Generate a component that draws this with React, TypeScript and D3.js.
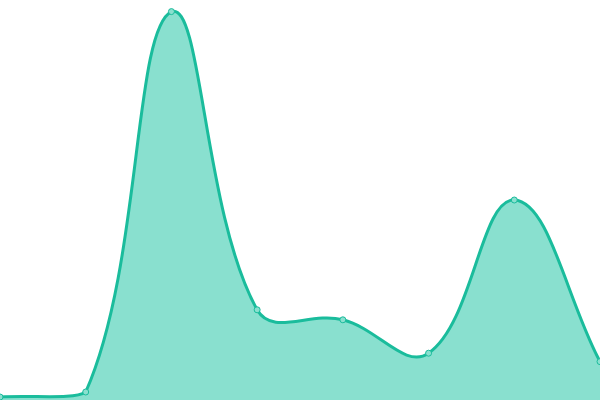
import { useEffect, useRef } from 'react';
import * as d3 from 'd3';

// values (hidden axes, 0..100 scale)
const labels = ['A', 'B', 'C', 'D', 'E', 'F', 'G', 'H'];
const values = [0.75, 2.0, 97.1, 22.55, 20.05, 11.7, 50.0, 9.6];

const W = 600;
const H = 400;
const LINE = '#1abc9c';
const FILL = '#89e0cf';
const DOT_FILL = '#8ae0cf';
const TENSION = 0.4;

type Pt = { x: number; y: number };

/** spline with distance-weighted control points (tension 0.4), capped to the plot area */
function splinePath(pts: Pt[], ctx: d3.Path, moveFirst = true) {
  const clampX = (v: number) => Math.max(0, Math.min(W, v));
  const clampY = (v: number) => Math.max(0, Math.min(H, v));
  const cps = pts.map((cur, i) => {
    const prev = pts[i - 1] ?? cur;
    const next = pts[i + 1] ?? cur;
    const d01 = Math.hypot(cur.x - prev.x, cur.y - prev.y);
    const d12 = Math.hypot(next.x - cur.x, next.y - cur.y);
    const sum = d01 + d12 || 1;
    const fa = (TENSION * d01) / sum;
    const fb = (TENSION * d12) / sum;
    return {
      px: clampX(cur.x - fa * (next.x - prev.x)),
      py: clampY(cur.y - fa * (next.y - prev.y)),
      nx: clampX(cur.x + fb * (next.x - prev.x)),
      ny: clampY(cur.y + fb * (next.y - prev.y)),
    };
  });
  pts.forEach((p, i) => {
    if (i === 0) {
      if (moveFirst) ctx.moveTo(p.x, p.y);
      else ctx.lineTo(p.x, p.y);
      return;
    }
    const a = cps[i - 1];
    const b = cps[i];
    ctx.bezierCurveTo(a.nx, a.ny, b.px, b.py, p.x, p.y);
  });
}

export default function App() {
  const svgRef = useRef<SVGSVGElement>(null);

  useEffect(() => {
    if (!svgRef.current) return;
    const svg = d3.select(svgRef.current);
    svg.selectAll('*').remove();

    const x = d3.scalePoint<string>().domain(labels).range([0, W]);
    const y = d3.scaleLinear().domain([0, 100]).range([H, 0]);

    const pts: Pt[] = labels.map((l, i) => ({ x: x(l)!, y: y(values[i]) }));

    // ── 채움 영역 ──
    const area = d3.path();
    area.moveTo(pts[0].x, y(0));
    splinePath(pts, area, false);
    area.lineTo(pts[pts.length - 1].x, y(0));
    area.closePath();
    svg.append('path').attr('d', area.toString()).attr('fill', FILL);

    // ── 선 ──
    const line = d3.path();
    splinePath(pts, line);
    svg.append('path')
      .attr('d', line.toString())
      .attr('fill', 'none')
      .attr('stroke', LINE)
      .attr('stroke-width', 3)
      .attr('stroke-linejoin', 'round');

    // ── 점 ──
    svg.selectAll('.dot')
      .data(pts)
      .enter()
      .append('circle')
      .attr('cx', (d) => d.x)
      .attr('cy', (d) => d.y)
      .attr('r', 3)
      .attr('fill', DOT_FILL)
      .attr('stroke', LINE)
      .attr('stroke-width', 1);
  }, []);

  return (
    <svg
      ref={svgRef}
      width={W}
      height={H}
      style={{ position: 'absolute', left: 0, top: 0, display: 'block' }}
    />
  );
}
